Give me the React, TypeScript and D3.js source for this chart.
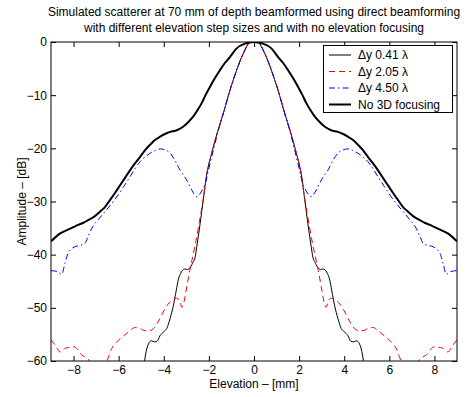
import { useEffect, useRef } from 'react';
import * as d3 from 'd3';

type Pt = [number, number];

const titleLines = [
  'Simulated scatterer at 70 mm of depth beamformed using direct beamforming',
  'with different elevation step sizes and with no elevation focusing',
];
const xTicks = [-8, -6, -4, -2, 0, 2, 4, 6, 8];
const yTicks = [0, -10, -20, -30, -40, -50, -60];
const legendLabels = ['\u0394y 0.41 \u03bb', '\u0394y 2.05 \u03bb', '\u0394y 4.50 \u03bb', 'No 3D focusing'];

// elevation [mm], amplitude [dB]
const dy041: Pt[] = [
  [-4.87, -60.5], [-4.78, -58.2], [-4.68, -56.8], [-4.55, -56.2], [-4.4, -56.4], [-4.3, -56.3],
  [-4.16, -55.2], [-4.0, -54.5], [-3.87, -53.9], [-3.72, -52.0], [-3.57, -49.5], [-3.45, -46.8],
  [-3.35, -44.6], [-3.25, -43.5], [-3.13, -42.8], [-3.05, -42.7], [-2.95, -42.8], [-2.83, -42.4],
  [-2.69, -41.3], [-2.61, -40.5], [-2.54, -38.6], [-2.46, -36.3], [-2.39, -34.2], [-2.25, -29.7],
  [-2.1, -25.0], [-1.87, -20.8], [-1.58, -16.4], [-1.36, -13.4], [-1.06, -9.0], [-0.77, -5.3],
  [-0.47, -2.1], [-0.18, -0.1], [0, 0], [0.18, -0.1], [0.47, -2.1], [0.77, -5.3], [1.06, -9.0],
  [1.36, -13.4], [1.58, -16.4], [1.87, -20.8], [2.1, -25.0], [2.25, -29.7], [2.39, -34.2],
  [2.46, -36.3], [2.54, -38.6], [2.61, -40.5], [2.69, -41.3], [2.83, -42.4], [2.95, -42.8],
  [3.05, -42.7], [3.13, -42.8], [3.25, -43.5], [3.35, -44.6], [3.45, -46.8], [3.57, -49.5],
  [3.72, -52.0], [3.87, -53.9], [4.0, -54.5], [4.16, -55.2], [4.3, -56.3], [4.4, -56.4],
  [4.55, -56.2], [4.68, -56.8], [4.78, -58.2], [4.87, -60.5],
];

const dy205: Pt[] = [
  [-9.0, -56.0], [-8.89, -56.6], [-8.75, -57.5], [-8.6, -58.3], [-8.52, -58.2], [-8.37, -57.6],
  [-8.16, -57.4], [-8.05, -57.3], [-7.93, -57.4], [-7.8, -58.0], [-7.63, -58.9], [-7.5, -59.2],
  [-7.34, -59.7], [-7.2, -61.0], [-6.9, -63.0], [-6.6, -61.0], [-6.45, -59.2], [-6.3, -57.6],
  [-6.16, -56.8], [-6.01, -56.1], [-5.85, -55.5], [-5.64, -54.8], [-5.45, -54.1], [-5.27, -53.7],
  [-5.05, -53.9], [-4.83, -54.3], [-4.65, -54.3], [-4.46, -53.9], [-4.3, -53.0], [-4.16, -51.9],
  [-4.0, -50.6], [-3.81, -49.3], [-3.57, -48.4], [-3.44, -48.2], [-3.3, -48.6], [-3.2, -49.9],
  [-3.1, -48.8], [-2.98, -46.0], [-2.85, -43.0], [-2.76, -41.2], [-2.61, -38.2], [-2.46, -34.8],
  [-2.4, -33.3], [-2.25, -29.5], [-2.1, -25.0], [-1.87, -20.8], [-1.58, -16.4], [-1.36, -13.4],
  [-1.06, -9.0], [-0.77, -5.3], [-0.47, -2.1], [-0.18, -0.1], [0, 0], [0.18, -0.1], [0.47, -2.1],
  [0.77, -5.3], [1.06, -9.0], [1.36, -13.4], [1.58, -16.4], [1.87, -20.8], [2.1, -25.0],
  [2.25, -29.5], [2.4, -33.3], [2.46, -34.8], [2.61, -38.2], [2.76, -41.2], [2.85, -43.0],
  [2.98, -46.0], [3.1, -48.8], [3.2, -49.9], [3.3, -48.6], [3.44, -48.2], [3.57, -48.4],
  [3.81, -49.3], [4.0, -50.6], [4.16, -51.9], [4.3, -53.0], [4.46, -53.9], [4.65, -54.3],
  [4.83, -54.3], [5.05, -53.9], [5.27, -53.7], [5.45, -54.1], [5.64, -54.8], [5.85, -55.5],
  [6.01, -56.1], [6.16, -56.8], [6.3, -57.6], [6.45, -59.2], [6.6, -61.0], [6.9, -63.0],
  [7.2, -61.0], [7.34, -59.7], [7.5, -59.2], [7.63, -58.9], [7.8, -58.0], [7.93, -57.4],
  [8.05, -57.3], [8.16, -57.4], [8.37, -57.6], [8.52, -58.2], [8.6, -58.3], [8.75, -57.5],
  [8.89, -56.6], [9.0, -56.0],
];

const dy450: Pt[] = [
  [-9.0, -43.0], [-8.7, -43.2], [-8.53, -43.7], [-8.38, -41.6], [-8.24, -39.7], [-7.94, -38.5],
  [-7.75, -38.3], [-7.5, -37.9], [-7.35, -36.5], [-7.13, -34.6], [-6.9, -33.4], [-6.67, -32.2],
  [-6.37, -30.7], [-6.08, -29.1], [-5.78, -27.2], [-5.49, -25.3], [-5.27, -23.8], [-5.05, -22.5],
  [-4.82, -21.6], [-4.6, -20.9], [-4.38, -20.4], [-4.16, -20.1], [-3.95, -20.3], [-3.72, -20.9],
  [-3.5, -22.3], [-3.28, -24.1], [-3.05, -25.5], [-2.83, -27.2], [-2.7, -28.3], [-2.54, -29.1],
  [-2.4, -28.6], [-2.25, -27.5], [-2.15, -26.5], [-2.02, -24.1], [-1.8, -20.3], [-1.58, -16.6],
  [-1.36, -13.4], [-1.06, -9.0], [-0.77, -5.3], [-0.47, -2.1], [-0.18, -0.1], [0, 0],
  [0.18, -0.1], [0.47, -2.1], [0.77, -5.3], [1.06, -9.0], [1.36, -13.4], [1.58, -16.6],
  [1.8, -20.3], [2.02, -24.1], [2.15, -26.5], [2.25, -27.5], [2.4, -28.6], [2.54, -29.1],
  [2.7, -28.3], [2.83, -27.2], [3.05, -25.5], [3.28, -24.1], [3.5, -22.3], [3.72, -20.9],
  [3.95, -20.3], [4.16, -20.1], [4.38, -20.4], [4.6, -20.9], [4.82, -21.6], [5.05, -22.5],
  [5.27, -23.8], [5.49, -25.3], [5.78, -27.2], [6.08, -29.1], [6.37, -30.7], [6.67, -32.2],
  [6.9, -33.4], [7.13, -34.6], [7.35, -36.5], [7.5, -37.9], [7.75, -38.3], [7.94, -38.5],
  [8.24, -39.7], [8.38, -41.6], [8.53, -43.7], [8.7, -43.2], [9.0, -43.0],
];

const no3d: Pt[] = [
  [-9.0, -37.5], [-8.8, -36.7], [-8.59, -36.0], [-8.3, -35.4], [-8.0, -34.8], [-7.8, -34.4],
  [-7.56, -34.0], [-7.35, -33.5], [-7.1, -32.9], [-6.82, -31.9], [-6.6, -31.0], [-6.38, -29.7],
  [-6.15, -28.3], [-5.93, -26.9], [-5.71, -25.5], [-5.49, -24.1], [-5.27, -22.8], [-5.05, -21.6],
  [-4.82, -20.3], [-4.6, -19.3], [-4.38, -18.4], [-4.16, -17.8], [-3.95, -17.3], [-3.72, -16.9],
  [-3.42, -16.6], [-3.13, -15.9], [-2.9, -15.0], [-2.69, -14.0], [-2.5, -12.8], [-2.32, -11.5],
  [-2.15, -10.0], [-1.95, -8.4], [-1.75, -6.9], [-1.51, -5.3], [-1.3, -4.0], [-1.06, -2.8],
  [-0.77, -1.2], [-0.4, -0.3], [0, 0], [0.4, -0.3], [0.77, -1.2], [1.06, -2.8], [1.3, -4.0],
  [1.51, -5.3], [1.75, -6.9], [1.95, -8.4], [2.15, -10.0], [2.32, -11.5], [2.5, -12.8],
  [2.69, -14.0], [2.9, -15.0], [3.13, -15.9], [3.42, -16.6], [3.72, -16.9], [3.95, -17.3],
  [4.16, -17.8], [4.38, -18.4], [4.6, -19.3], [4.82, -20.3], [5.05, -21.6], [5.27, -22.8],
  [5.49, -24.1], [5.71, -25.5], [5.93, -26.9], [6.15, -28.3], [6.38, -29.7], [6.6, -31.0],
  [6.82, -31.9], [7.1, -32.9], [7.35, -33.5], [7.56, -34.0], [7.8, -34.4], [8.0, -34.8],
  [8.3, -35.4], [8.59, -36.0], [8.8, -36.7], [9.0, -37.5],
];

const series = [
  { data: dy041, color: '#000000', width: 1, dash: null as string | null },
  { data: dy205, color: '#ff0000', width: 1, dash: '6,4' },
  { data: dy450, color: '#0000ff', width: 1, dash: '6,3,1.5,3' },
  { data: no3d, color: '#000000', width: 2, dash: null as string | null },
];

export default function App() {
  const svgRef = useRef<SVGSVGElement>(null);
  const width = 473;
  const height = 397;

  useEffect(() => {
    if (!svgRef.current) return;
    const margin = { top: 42, right: 16, bottom: 36, left: 51 };
    const innerWidth = width - margin.left - margin.right;
    const innerHeight = height - margin.top - margin.bottom;
    const font = 'Liberation Sans, Arial, Helvetica, sans-serif';

    const svg = d3.select(svgRef.current);
    svg.selectAll('*').remove();

    svg.append('defs').append('clipPath').attr('id', 'plot-clip')
      .append('rect').attr('width', innerWidth).attr('height', innerHeight);

    const g = svg.append('g').attr('transform', `translate(${margin.left},${margin.top})`);

    const xScale = d3.scaleLinear().domain([-9, 9]).range([0, innerWidth]);
    const yScale = d3.scaleLinear().domain([-60, 0]).range([innerHeight, 0]);

    const line = d3.line<Pt>()
      .x(d => xScale(d[0]))
      .y(d => yScale(d[1]))
      .curve(d3.curveMonotoneX);

    const lines = g.append('g').attr('clip-path', 'url(#plot-clip)');
    series.forEach(s => {
      lines.append('path')
        .datum(s.data)
        .attr('fill', 'none')
        .attr('stroke', s.color)
        .attr('stroke-width', s.width)
        .attr('stroke-dasharray', s.dash)
        .attr('d', line);
    });

    // axes, MATLAB style with inward ticks on all sides
    const tk = 5;
    const xb = g.append('g').attr('transform', `translate(0,${innerHeight})`)
      .call(d3.axisBottom(xScale).tickValues(xTicks).tickSizeInner(-tk).tickSizeOuter(0).tickPadding(4));
    const xt = g.append('g')
      .call(d3.axisTop(xScale).tickValues(xTicks).tickSizeInner(-tk).tickSizeOuter(0).tickFormat(() => ''));
    const yl = g.append('g')
      .call(d3.axisLeft(yScale).tickValues(yTicks).tickSizeInner(-tk).tickSizeOuter(0).tickPadding(4));
    const yr = g.append('g').attr('transform', `translate(${innerWidth},0)`)
      .call(d3.axisRight(yScale).tickValues(yTicks).tickSizeInner(-tk).tickSizeOuter(0).tickFormat(() => ''));
    [xb, xt, yl, yr].forEach(a => {
      a.select('.domain').remove();
      a.selectAll('line').attr('stroke', '#000');
      a.selectAll('text').attr('fill', '#000').attr('font-family', font).attr('font-size', '12px');
    });

    g.append('rect')
      .attr('width', innerWidth).attr('height', innerHeight)
      .attr('fill', 'none').attr('stroke', '#000').attr('stroke-width', 1);

    // legend
    const legend = g.append('g').attr('transform', `translate(${323 - margin.left},${45 - margin.top})`);
    legend.append('rect')
      .attr('x', 0.5).attr('y', 0.5).attr('width', 129).attr('height', 67)
      .attr('fill', '#fff').attr('stroke', '#000').attr('stroke-width', 1);
    legendLabels.forEach((label, i) => {
      const s = series[i];
      const cy = 10 + i * 16.5;
      legend.append('line')
        .attr('x1', 6).attr('x2', 28).attr('y1', cy).attr('y2', cy)
        .attr('stroke', s.color).attr('stroke-width', s.width)
        .attr('stroke-dasharray', s.dash);
      legend.append('text')
        .attr('x', 35).attr('y', cy + 4)
        .attr('fill', '#000').attr('font-family', font).attr('font-size', '12px')
        .text(label);
    });

    // titles and axis labels
    titleLines.forEach((t, i) => {
      svg.append('text')
        .attr('x', margin.left + innerWidth / 2).attr('y', 16 + i * 15.5)
        .attr('text-anchor', 'middle').attr('fill', '#000')
        .attr('font-family', font).attr('font-size', '12px')
        .text(t);
    });

    svg.append('text')
      .attr('x', margin.left + innerWidth / 2).attr('y', 388)
      .attr('text-anchor', 'middle').attr('fill', '#000')
      .attr('font-family', font).attr('font-size', '12px')
      .text('Elevation \u2013 [mm]');

    svg.append('text')
      .attr('transform', 'rotate(-90)')
      .attr('x', -(margin.top + innerHeight / 2)).attr('y', 26)
      .attr('text-anchor', 'middle').attr('fill', '#000')
      .attr('font-family', font).attr('font-size', '12px')
      .text('Amplitude \u2013 [dB]');
  }, []);

  return (
    <svg
      ref={svgRef}
      width={width}
      height={height}
      style={{ position: 'absolute', left: 0, top: 0, background: '#fff' }}
    />
  );
}
